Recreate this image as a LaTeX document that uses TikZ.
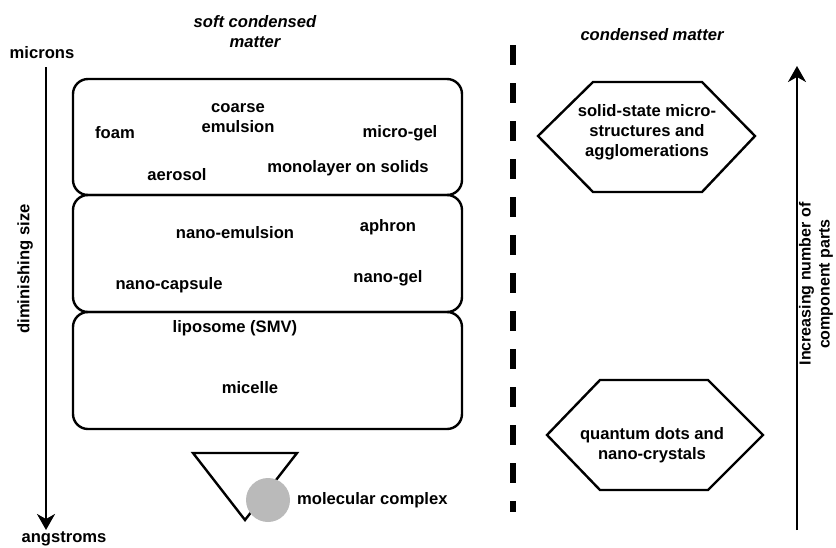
\documentclass[tikz,border=0pt]{standalone}
\usepackage{fontspec}
\setmainfont{Liberation Sans}
\usetikzlibrary{arrows.meta}
\begin{document}
\begin{tikzpicture}[x=1pt,y=-1pt,
  lbl/.style={font=\fontsize{16.6}{20}\selectfont\bfseries, inner sep=1pt, align=center},
  head/.style={font=\fontsize{16.6}{20}\selectfont\bfseries\itshape, inner sep=1pt, align=center},
  sizebox/.style={draw, line width=2.4pt, rounded corners=15pt, minimum width=389pt, inner sep=0pt},
  hexline/.style={draw, line width=2.4pt, line join=miter},
  axis/.style={line width=2.2pt, -{Stealth[length=16pt,width=18pt,inset=5pt]}}
]
\useasboundingbox (0,0) rectangle (836,547);

% headings
\node[head] (soft) at (255,32) {soft condensed\\matter};
\node[head] (cond) at (652,35) {condensed matter};

% left axis
\node[lbl] (microns) at (42,53) {microns};
\node[lbl] (angstroms) at (64,539) {angstroms};
\coordinate (la) at (46,67);
\coordinate (lb) at (46,530);
\draw[axis] (la) -- (lb);
\node[lbl, rotate=90] (dimin) at (25,269) {diminishing size};

% boxes
\node[sizebox, minimum height=116pt] (box1) at (267.5,137) {};
\node[sizebox, minimum height=117pt] (box2) at (267.5,253.5) {};
\node[sizebox, minimum height=117pt] (box3) at (267.5,370.5) {};

% box 1 texts
\node[lbl] (coarse) at (238,118) {coarse\\emulsion};
\node[lbl] (foam) at (115,133) {foam};
\node[lbl] (microgel) at (400,133) {micro-gel};
\node[lbl] (aerosol) at (177,175) {aerosol};
\node[lbl] (monolayer) at (348,168) {monolayer on solids};

% box 2 texts
\node[lbl] (nanoemul) at (235,233) {nano-emulsion};
\node[lbl] (aphron) at (388,227) {aphron};
\node[lbl] (nanocaps) at (169,285) {nano-capsule};
\node[lbl] (nanogel) at (388,278) {nano-gel};

% box 3 texts
\node[lbl] (liposome) at (235,328) {liposome (SMV)};
\node[lbl] (micelle) at (250,388) {micelle};

% molecular complex
\coordinate (t1) at (193,453);
\coordinate (t2) at (297,453);
\coordinate (t3) at (245,520);
\draw[hexline] (t1) -- (t2) -- (t3) -- cycle;
\node[circle, fill=black!27, minimum size=44pt, inner sep=0pt] (molc) at (268,500) {};
\node[lbl, anchor=west] (moltext) at (296,500) {molecular complex};

% dashed separator
\coordinate (da) at (513,45);
\coordinate (db) at (513,512);
\draw[line width=5.5pt, dash pattern=on 20pt off 18pt] (da) -- (db);

% hexagon 1
\coordinate (h1a) at (538,136);
\coordinate (h1b) at (593,82);
\coordinate (h1c) at (702,82);
\coordinate (h1d) at (755,136);
\coordinate (h1e) at (702,192);
\coordinate (h1f) at (593,192);
\draw[hexline] (h1a) -- (h1b) -- (h1c) -- (h1d) -- (h1e) -- (h1f) -- cycle;
\node[lbl] (solid) at (647,132) {solid-state micro-\\structures and\\agglomerations};

% hexagon 2
\coordinate (h2a) at (547,435);
\coordinate (h2b) at (600,380);
\coordinate (h2c) at (708,380);
\coordinate (h2d) at (763,435);
\coordinate (h2e) at (708,490);
\coordinate (h2f) at (600,490);
\draw[hexline] (h2a) -- (h2b) -- (h2c) -- (h2d) -- (h2e) -- (h2f) -- cycle;
\node[lbl] (quantum) at (652,445) {quantum dots and\\nano-crystals};

% right axis
\coordinate (ra) at (797,530);
\coordinate (rb) at (797,66);
\draw[axis] (ra) -- (rb);
\node[lbl, rotate=90, inner sep=0pt, font=\fontsize{16}{19}\selectfont\bfseries] (incr) at (816,284) {Increasing number of\\component parts};
\end{tikzpicture}
\end{document}
